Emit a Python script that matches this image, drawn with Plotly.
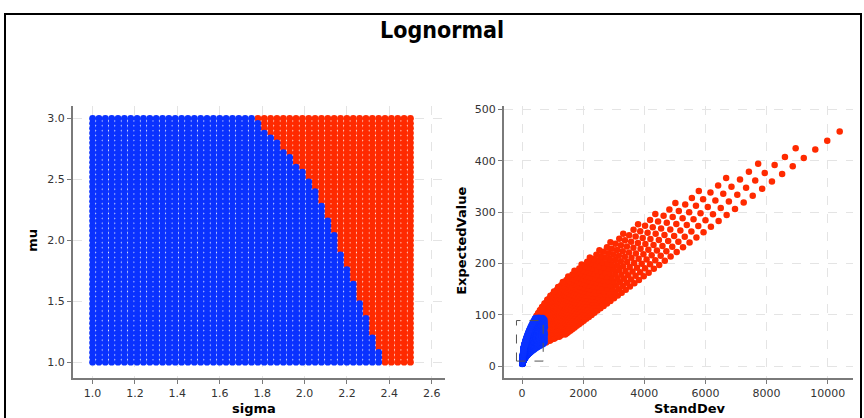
import numpy as np
import plotly.graph_objects as go

# ---- data (parameter grid) ----
sigma_values = [1.00, 1.03, 1.06, 1.09, 1.12, 1.15, 1.18, 1.21, 1.24, 1.27,
                1.30, 1.33, 1.36, 1.39, 1.42, 1.45, 1.48, 1.51, 1.54, 1.57,
                1.60, 1.63, 1.66, 1.69, 1.72, 1.75, 1.78, 1.81, 1.84, 1.87,
                1.90, 1.93, 1.96, 1.99, 2.02, 2.05, 2.08, 2.11, 2.14, 2.17,
                2.20, 2.23, 2.26, 2.29, 2.32, 2.35, 2.38, 2.41, 2.44, 2.47, 2.50]
mu_values = [1.00, 1.04, 1.08, 1.12, 1.16, 1.20, 1.24, 1.28, 1.32, 1.36,
             1.40, 1.44, 1.48, 1.52, 1.56, 1.60, 1.64, 1.68, 1.72, 1.76,
             1.80, 1.84, 1.88, 1.92, 1.96, 2.00, 2.04, 2.08, 2.12, 2.16,
             2.20, 2.24, 2.28, 2.32, 2.36, 2.40, 2.44, 2.48, 2.52, 2.56,
             2.60, 2.64, 2.68, 2.72, 2.76, 2.80, 2.84, 2.88, 2.92, 2.96, 3.00]
expected_limit = [95.0]     # blue region: ExpectedValue below this
standdev_limit = [750.0]    # and StandDev below this
zoom_box_sd = [-185, 690]
zoom_box_ev = [10, 89]
sigma_ticks = [1.0, 1.2, 1.4, 1.6, 1.8, 2.0, 2.2, 2.4, 2.6]
mu_ticks = [1.0, 1.5, 2.0, 2.5, 3.0]
sd_ticks = [0, 2000, 4000, 6000, 8000, 10000]
ev_ticks = [0, 100, 200, 300, 400, 500]

S, M = np.meshgrid(np.array(sigma_values), np.array(mu_values))
S = S.ravel(); M = M.ravel()
EV = np.exp(M + S**2 / 2.0)
SD = EV * np.sqrt(np.exp(S**2) - 1.0)
blue = (EV < expected_limit[0]) & (SD < standdev_limit[0])
red = ~blue

BLUE = "#0a32ff"
RED = "#ff2a00"
W, H = 864, 418

def px(x):
    return x / W

def py(y):
    return 1 - y / H

fig = go.Figure()
mk = dict(size=6.8, line=dict(width=0))
fig.add_trace(go.Scatter(x=S[red], y=M[red], mode="markers",
                         marker=dict(color=RED, **mk), xaxis="x", yaxis="y", showlegend=False))
fig.add_trace(go.Scatter(x=S[blue], y=M[blue], mode="markers",
                         marker=dict(color=BLUE, **mk), xaxis="x", yaxis="y", showlegend=False))
fig.add_trace(go.Scatter(x=SD[red], y=EV[red], mode="markers",
                         marker=dict(color=RED, size=6.5, line=dict(width=0)),
                         xaxis="x2", yaxis="y2", showlegend=False))
fig.add_trace(go.Scatter(x=SD[blue], y=EV[blue], mode="markers",
                         marker=dict(color=BLUE, size=6.5, line=dict(width=0)),
                         xaxis="x2", yaxis="y2", showlegend=False))

tickfont = dict(family="DejaVu Sans", size=11, color="#333333")
axis_common = dict(showline=True, linecolor="#7a7a7a", linewidth=2, ticks="outside",
                   ticklen=4, tickcolor="#7a7a7a", showgrid=True, gridcolor="#e4e4e4",
                   griddash="dash", gridwidth=1, zeroline=False, tickfont=tickfont,
                   mirror=False)

ydom = [py(378), py(104)]
fig.update_layout(
    width=W, height=H, autosize=False,
    margin=dict(l=0, r=0, t=0, b=0),
    paper_bgcolor="white", plot_bgcolor="white",
    xaxis=dict(domain=[px(73), px(445)], range=[0.9075, 2.663], tickvals=sigma_ticks,
               tickformat=".1f", anchor="y", **axis_common),
    yaxis=dict(domain=ydom, range=[0.869, 3.106], tickvals=mu_ticks,
               tickformat=".1f", anchor="x", **axis_common),
    xaxis2=dict(domain=[px(504), px(853)], range=[-593, 10830], tickvals=sd_ticks,
                tickformat="d", anchor="y2", **axis_common),
    yaxis2=dict(domain=ydom, range=[-23.3, 507.8], tickvals=ev_ticks,
                tickformat="d", anchor="x2", **axis_common),
)

shapes = [
    dict(type="rect", xref="paper", yref="paper", x0=px(5), x1=px(861), y0=py(440), y1=py(12),
         line=dict(color="black", width=2), fillcolor="rgba(0,0,0,0)", layer="above"),
    dict(type="rect", xref="x2", yref="y2", x0=zoom_box_sd[0], x1=zoom_box_sd[1],
         y0=zoom_box_ev[0], y1=zoom_box_ev[1],
         line=dict(color="#555555", width=1, dash="dash"), fillcolor="rgba(0,0,0,0)", layer="above"),
]
fig.update_layout(shapes=shapes)

titlefont = dict(family="DejaVu Sans", size=13, color="black", weight="bold")
annotations = [
    dict(text="Lognormal", x=px(442), y=py(28), xref="paper", yref="paper",
         showarrow=False, xanchor="center", yanchor="middle",
         font=dict(family="DejaVu Sans Condensed, DejaVu Sans", size=23, color="black", weight="bold")),
    dict(text="mu", x=px(33), y=py(240), xref="paper", yref="paper", showarrow=False,
         textangle=-90, xanchor="center", yanchor="middle", font=titlefont),
    dict(text="sigma", x=px(254), y=py(408), xref="paper", yref="paper", showarrow=False,
         xanchor="center", yanchor="middle", font=titlefont),
    dict(text="ExpectedValue", x=px(462), y=py(240), xref="paper", yref="paper", showarrow=False,
         textangle=-90, xanchor="center", yanchor="middle", font=titlefont),
    dict(text="StandDev", x=px(690), y=py(408), xref="paper", yref="paper", showarrow=False,
         xanchor="center", yanchor="middle", font=titlefont),
]
fig.update_layout(annotations=annotations)

fig.write_html("out.html", config={"displayModeBar": False},
               post_script="document.body.style.margin='0';document.body.style.padding='0';document.body.style.overflow='hidden';")
